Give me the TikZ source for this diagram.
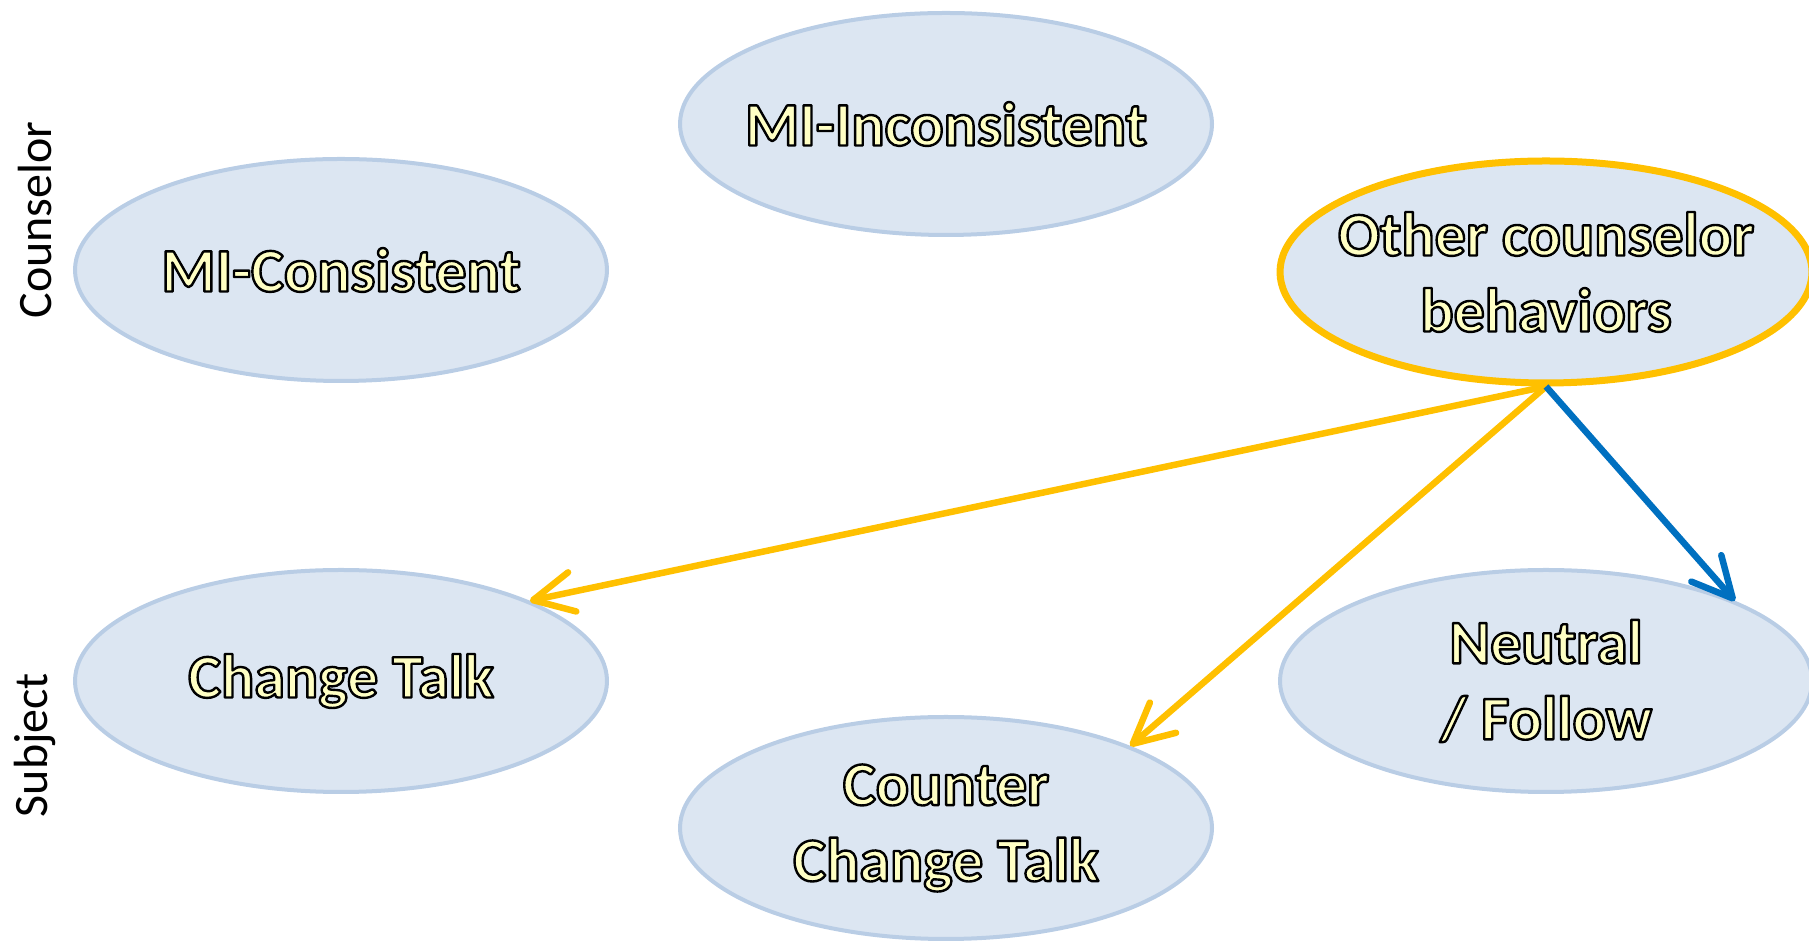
\documentclass[tikz,border=0pt]{standalone}
\usepackage{fontspec}
\setmainfont{Carlito}
\usetikzlibrary{shapes.geometric,arrows.meta}
\definecolor{efill}{HTML}{DCE6F2}
\definecolor{eline}{HTML}{B9CDE5}
\definecolor{ygold}{HTML}{FFC000}
\definecolor{bblue}{HTML}{0070C0}
\definecolor{tyel}{HTML}{FFFFC4}
\newcommand{\otx}[1]{\textcolor{tyel}{\special{pdf:literal direct 0 0 0 RG 1 j 2.4 w 2 Tr}#1\special{pdf:literal direct 0 Tr}}}
\tikzset{
  bub/.style={ellipse, fill=efill, draw=eline, line width=4pt, minimum width=532pt, minimum height=222pt, inner sep=0pt},
  txt/.style={font=\fontsize{62}{76}\selectfont\bfseries, align=center, inner sep=0pt},
  hl/.style={draw=ygold, line width=7pt},
  conn/.style={line width=6.5pt, -{Straight Barb[length=40pt,width=40pt,line width=6.5pt,round]}},
  side/.style={rotate=90, font=\fontsize{48}{50}\selectfont, inner sep=0pt}
}
\begin{document}
\begin{tikzpicture}[x=1pt,y=1pt]
\useasboundingbox (0,0) rectangle (1809,944);
\node[bub] (mii) at (946,820) {};
\node[bub] (mic) at (341,674) {};
\node[bub,hl] (oth) at (1546,672) {};
\node[bub] (ct) at (341,263) {};
\node[bub] (cct) at (946,116) {};
\node[bub] (nf) at (1546,263) {};
\node[txt] (tmii) at (mii) {\otx{MI-Inconsistent}};
\node[txt] (tmic) at (mic) {\otx{MI-Consistent}};
\node[txt] (tct) at (ct) {\otx{Change Talk}};
\node[txt] (toth) at (oth) {\otx{Other counselor}\\\otx{behaviors}};
\node[txt] (tcct) at (cct) {\otx{Counter}\\\otx{Change Talk}};
\node[txt] (tnf) at (nf) {\otx{Neutral}\\\otx{/ Follow}};
\node[side] (lc) at (35,724) {Counselor};
\node[side] (ls) at (35,199) {Subject};
\draw[conn, ygold] (oth.south) -- (ct.23);
\draw[conn, ygold] (oth.south) -- (cct.24);
\draw[conn, bblue] (oth.south) -- (nf.23);
\end{tikzpicture}
\end{document}
